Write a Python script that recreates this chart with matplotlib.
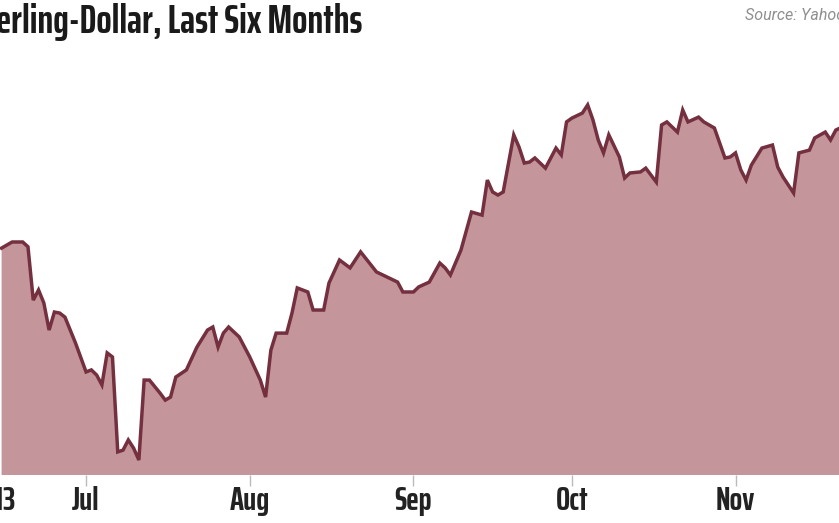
import datetime as dt
import matplotlib
matplotlib.use("Agg")
import matplotlib.pyplot as plt
import matplotlib.dates as mdates

# GBP/USD daily close (approximate)
dates = [
    "2013-06-15", "2013-06-17", "2013-06-19", "2013-06-20", "2013-06-21", "2013-06-22",
    "2013-06-23", "2013-06-24", "2013-06-25", "2013-06-26", "2013-06-27", "2013-06-29",
    "2013-07-01", "2013-07-02", "2013-07-03", "2013-07-04", "2013-07-05", "2013-07-06",
    "2013-07-07", "2013-07-08", "2013-07-09", "2013-07-10", "2013-07-11", "2013-07-12",
    "2013-07-13", "2013-07-15", "2013-07-16", "2013-07-17", "2013-07-18", "2013-07-20",
    "2013-07-22", "2013-07-24", "2013-07-25", "2013-07-26", "2013-07-27", "2013-07-28",
    "2013-07-30", "2013-08-01", "2013-08-03", "2013-08-04", "2013-08-05", "2013-08-06",
    "2013-08-08", "2013-08-09", "2013-08-10", "2013-08-12", "2013-08-13", "2013-08-15",
    "2013-08-16", "2013-08-18", "2013-08-20", "2013-08-22", "2013-08-25", "2013-08-27",
    "2013-08-29", "2013-08-30", "2013-09-01", "2013-09-02", "2013-09-04", "2013-09-06",
    "2013-09-07", "2013-09-08", "2013-09-10", "2013-09-12", "2013-09-14", "2013-09-15",
    "2013-09-16", "2013-09-17", "2013-09-18", "2013-09-20", "2013-09-21", "2013-09-22",
    "2013-09-23", "2013-09-24", "2013-09-25", "2013-09-26", "2013-09-28", "2013-09-29",
    "2013-09-30", "2013-10-01", "2013-10-03", "2013-10-04", "2013-10-05", "2013-10-06",
    "2013-10-07", "2013-10-08", "2013-10-10", "2013-10-11", "2013-10-12", "2013-10-14",
    "2013-10-15", "2013-10-17", "2013-10-18", "2013-10-19", "2013-10-21", "2013-10-22",
    "2013-10-23", "2013-10-25", "2013-10-26", "2013-10-28", "2013-10-29", "2013-10-30",
    "2013-10-31", "2013-11-01", "2013-11-02", "2013-11-03", "2013-11-04", "2013-11-06",
    "2013-11-08", "2013-11-09", "2013-11-10", "2013-11-12", "2013-11-13", "2013-11-15",
    "2013-11-16", "2013-11-18", "2013-11-19", "2013-11-20", "2013-11-21",
]
rates = [
    1.5655, 1.5679, 1.5679, 1.5660, 1.5450, 1.5490,
    1.5439, 1.5332, 1.5403, 1.5399, 1.5383, 1.5281,
    1.5167, 1.5175, 1.5155, 1.5116, 1.5242, 1.5226,
    1.4852, 1.4859, 1.4899, 1.4867, 1.4820, 1.5135,
    1.5135, 1.5084, 1.5056, 1.5068, 1.5147, 1.5175,
    1.5265, 1.5332, 1.5344, 1.5265, 1.5320, 1.5344,
    1.5305, 1.5226, 1.5135, 1.5068, 1.5253, 1.5320,
    1.5320, 1.5399, 1.5498, 1.5482, 1.5411, 1.5411,
    1.5517, 1.5608, 1.5577, 1.5640, 1.5561, 1.5541,
    1.5521, 1.5482, 1.5482, 1.5502, 1.5521, 1.5596,
    1.5577, 1.5549, 1.5647, 1.5797, 1.5785, 1.5923,
    1.5876, 1.5864, 1.5876, 1.6101, 1.6053, 1.5990,
    1.5994, 1.6010, 1.5990, 1.5970, 1.6049, 1.6022,
    1.6152, 1.6167, 1.6187, 1.6219, 1.6160, 1.6081,
    1.6030, 1.6101, 1.6014, 1.5931, 1.5951, 1.5955,
    1.5970, 1.5915, 1.6140, 1.6152, 1.6112, 1.6199,
    1.6152, 1.6171, 1.6152, 1.6128, 1.6069, 1.6010,
    1.6014, 1.6030, 1.5963, 1.5923, 1.5982, 1.6049,
    1.6061, 1.5974, 1.5935, 1.5872, 1.6030, 1.6041,
    1.6089, 1.6112, 1.6081, 1.6120, 1.6130,
]
month_ticks = ["2013-07-01", "2013-08-01", "2013-09-01", "2013-10-01", "2013-11-01"]
month_labels = ["Jul", "Aug", "Sep", "Oct", "Nov"]

title = "Sterling-Dollar, Last Six Months"
source = "Source: Yahoo! Finance"

fill_color = "#c4969b"
line_color = "#74303f"
label_font = ["Saira ExtraCondensed", "DejaVu Sans"]
source_font = ["Roboto", "DejaVu Sans"]

x = [dt.datetime.strptime(d, "%Y-%m-%d") for d in dates]

fig = plt.figure(figsize=(8.39, 5.23), dpi=100)
ax = fig.add_axes([0, 48 / 523, 1, 415 / 523])

ymin, ymax = 1.4761, 1.6396
ax.fill_between(x, rates, ymin, color=fill_color, linewidth=0)
ax.plot(x, rates, color=line_color, linewidth=2.5, solid_joinstyle="miter")

jul1 = mdates.date2num(dt.datetime(2013, 7, 1))
ax.set_xlim(jul1 - 16.3, jul1 + 142.6)
ax.set_ylim(ymin, ymax)

for s in ax.spines.values():
    s.set_visible(False)
ax.set_yticks([])
ax.set_xticks([dt.datetime.strptime(d, "%Y-%m-%d") for d in month_ticks])
ax.set_xticklabels(month_labels, family=label_font, fontweight="bold",
                   fontsize=24, color="#222222")
ax.tick_params(axis="x", direction="out", length=8, width=1,
               color="#bbbbbb", pad=0)

# first label sits mostly outside the crop
fig.text(15 / 839, 1 - 501 / 523, "Jun 2013", ha="right", va="center",
         family=label_font, fontweight="bold", fontsize=24, color="#222222")

fig.text(362 / 839, 1 - 22 / 523, title, ha="right", va="center",
         family=label_font, fontweight="bold", fontsize=29, color="#1a1a1a")
fig.text(745 / 839, 1 - 15 / 523, source, ha="left", va="center",
         family=source_font, style="italic", fontsize=11.5, color="#8f8f8f")

fig.savefig("out.png", dpi=100)
